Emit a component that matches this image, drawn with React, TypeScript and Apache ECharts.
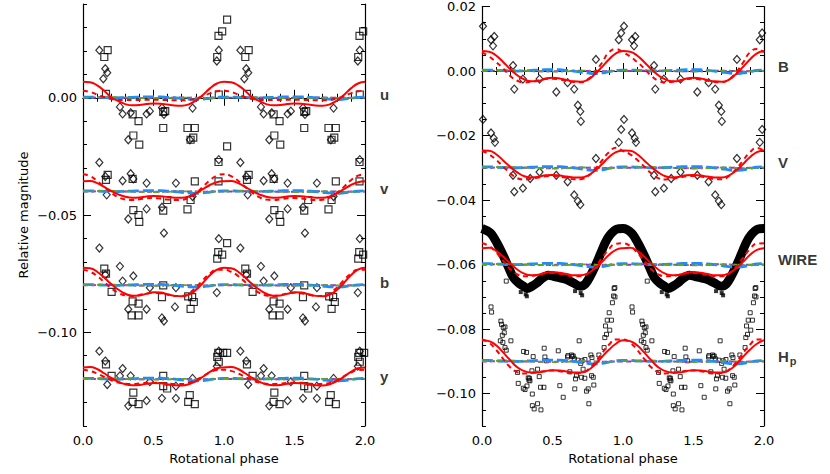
import React, { useEffect, useRef } from "react";
import * as echarts from "echarts";

// ---------- data ----------
const PHASE_GRID = [0, 0.05, 0.1, 0.15, 0.2, 0.25, 0.3, 0.35, 0.4, 0.45, 0.5, 0.55, 0.6, 0.65, 0.7, 0.75, 0.8, 0.85, 0.9, 0.95, 1.0];

// band offsets
const LEFT_BANDS = ["u", "v", "b", "y"];
const LEFT_OFFSETS = [0, -0.04, -0.08, -0.12];
const RIGHT_BANDS = ["B", "V", "WIRE", "Hp"];
const RIGHT_OFFSETS = [0, -0.03, -0.06, -0.09];

// observed points (phase, relative value) — diamonds / squares
const U_DIAMONDS = [[0.116, 0.0203], [0.144, 0.0081], [0.158, 0.0124], [0.172, 0.0107], [0.262, -0.0039], [0.281, -0.0069], [0.321, -0.0179], [0.338, -0.0064], [0.451, -0.0069], [0.474, -0.0057], [0.56, -0.0043], [0.574, -0.0071], [0.758, -0.0179], [0.777, -0.0044], [0.949, 0.0157], [0.963, 0.0203]];
const U_SQUARES = [[0.151, 0.0174], [0.175, 0.0203], [0.163, 0.0017], [0.352, -0.0071], [0.394, -0.0100], [0.357, -0.0161], [0.399, -0.0200], [0.569, -0.0060], [0.583, -0.0057], [0.569, -0.0129], [0.741, -0.0129], [0.793, -0.0129], [0.763, -0.0179], [0.782, -0.0170], [0.961, 0.0264], [0.987, 0.0283], [0.952, 0.0174], [0.963, 0.0014], [1.022, 0.0333], [1.022, -0.0207]];

const V_DIAMONDS = [[0.116, 0.0124], [0.158, 0.0064], [0.168, -0.0014], [0.281, 0.0046], [0.338, 0.0076], [0.357, 0.0054], [0.321, -0.0117], [0.451, 0.0036], [0.451, -0.0074], [0.56, -0.0067], [0.574, -0.0177], [0.659, 0.0036], [0.777, -0.0021], [0.963, 0.0136]];
const V_SQUARES = [[0.175, 0.0071], [0.163, 0.005], [0.352, 0.0054], [0.357, -0.0079], [0.394, -0.0100], [0.399, -0.0129], [0.569, -0.0081], [0.597, -0.0036], [0.741, -0.0076], [0.763, -0.0036], [0.793, 0.0043], [0.961, 0.0126], [0.961, 0.0043]];

const B_DIAMONDS = [[0.116, 0.0159], [0.158, 0.0045], [0.262, 0.0081], [0.281, 0.0018], [0.357, 0.004], [0.321, -0.0102], [0.451, -0.0102], [0.474, -0.001], [0.56, -0.0139], [0.574, -0.0152], [0.652, -0.0092], [0.659, -0.001], [0.949, -0.0031], [0.963, 0.0199]];
const B_SQUARES = [[0.151, 0.0071], [0.163, 0.005], [0.203, -0.0028], [0.352, -0.0068], [0.394, -0.0078], [0.345, -0.0128], [0.394, -0.0128], [0.569, 0.0], [0.56, -0.005], [0.746, -0.0047], [0.774, -0.005], [0.786, -0.0071], [0.763, -0.0100], [0.952, 0.0114], [0.959, 0.0142], [0.987, 0.0131], [1.022, 0.018]];

const Y_DIAMONDS = [[0.116, 0.0119], [0.158, 0.0077], [0.172, -0.0023], [0.262, 0.0014], [0.281, 0.0045], [0.321, -0.0114], [0.338, 0.0014], [0.451, -0.0092], [0.474, -0.0011], [0.56, -0.0082], [0.659, -0.003], [0.659, -0.0082], [0.777, 0.0003], [0.949, 0.0055], [0.963, 0.0119]];
const Y_SQUARES = [[0.163, 0.0063], [0.203, 0.0014], [0.357, -0.0058], [0.352, -0.0097], [0.394, -0.0107], [0.569, 0.0014], [0.569, -0.003], [0.597, -0.004], [0.757, -0.0068], [0.746, -0.0097], [0.793, -0.0107], [0.952, 0.0095], [0.959, 0.0112], [0.963, 0.0074], [0.994, 0.0112], [1.022, 0.0112]];

const BB_DIAMONDS = [[0.007, 0.0139], [0.064, 0.0097], [0.078, 0.0078], [0.087, 0.0107], [0.22, 0.0017], [0.229, -0.0056], [0.29, -0.0025], [0.408, -0.0025], [0.527, -0.0065], [0.607, -0.0036], [0.654, -0.0056], [0.68, -0.0106], [0.697, -0.0125], [0.701, -0.0156], [0.808, 0.0036], [0.97, 0.0097], [0.987, 0.0118]];
const VV_DIAMONDS = [[0.007, 0.015], [0.064, 0.0108], [0.083, 0.0092], [0.092, 0.0079], [0.22, -0.0023], [0.229, -0.0074], [0.29, -0.0063], [0.342, -0.0033], [0.408, -0.0013], [0.527, -0.0023], [0.607, -0.0043], [0.654, -0.0084], [0.68, -0.0103], [0.697, -0.0114], [0.808, 0.0029], [0.97, 0.0079], [0.987, 0.0119]];

const HP_SQUARES = [[0.064, 0.0169], [0.068, 0.0153], [0.13, 0.0064], [0.134, 0.0125], [0.139, 0.0115], [0.144, 0.0081], [0.148, 0.0059], [0.151, 0.0105], [0.158, 0.0089], [0.163, 0.0107], [0.163, 0.0043], [0.172, 0.0035], [0.172, 0.0249], [0.205, 0.0064], [0.252, -0.0034], [0.257, -0.0068], [0.293, -0.0083], [0.295, 0.0031], [0.305, -0.0087], [0.316, 0.0028], [0.319, -0.0076], [0.328, -0.0051], [0.333, -0.0058], [0.336, -0.0052], [0.34, -0.006], [0.354, -0.0029], [0.357, -0.0101], [0.357, -0.0137], [0.363, 0.0015], [0.37, -0.0147], [0.394, -0.0024], [0.394, -0.0131], [0.406, -0.0047], [0.415, -0.008], [0.418, -0.015], [0.439, -0.008], [0.441, 0.0041], [0.446, 0.0014], [0.458, 0.0002], [0.541, 0.0033], [0.552, -0.0075], [0.576, -0.0111], [0.607, 0.0014], [0.61, 0.0018], [0.623, -0.0032], [0.635, 0.002], [0.64, 0.0015], [0.647, 0.0017], [0.655, 0.0008], [0.658, -0.0085], [0.663, -0.0054], [0.67, -0.0044], [0.68, 0.0004], [0.689, 0.0064], [0.7, -0.0006], [0.705, -0.0049], [0.71, 0.0002], [0.717, -0.0024], [0.729, -0.0052], [0.73, 0.0006], [0.741, -0.0092], [0.753, -0.0085], [0.758, -0.0131], [0.772, 0.002], [0.777, -0.0044], [0.78, 0.0012], [0.789, -0.0049], [0.793, -0.0073], [0.829, 0.002], [0.866, 0.0043], [0.871, 0.0074], [0.876, 0.011], [0.883, 0.0084], [0.888, 0.0128], [0.902, 0.0151], [0.906, 0.0097], [0.918, 0.0128], [0.925, 0.0182], [0.933, 0.0203], [0.937, 0.0226], [0.942, 0.0229], [0.943, 0.02]];

// WIRE light curve (dense band), phase & relative value
const WIRE_PH = [0.0, 0.06, 0.106, 0.153, 0.19, 0.224, 0.26, 0.295, 0.32, 0.354, 0.389, 0.425, 0.47, 0.507, 0.554, 0.6, 0.649, 0.696, 0.732, 0.767, 0.802, 0.838, 0.873, 0.908, 0.956, 1.0];
const WIRE_V = [0.0112, 0.0098, 0.0067, 0.0026, -0.001, -0.0041, -0.0057, -0.0067, -0.0074, -0.0067, -0.0057, -0.0043, -0.0033, -0.0036, -0.0041, -0.0046, -0.0057, -0.0067, -0.006, -0.0036, -0.0005, 0.0031, 0.0067, 0.0092, 0.011, 0.0112];
// scattered WIRE points below the band (phase, relative value)
const WIRE_LOW = [[0.31, -0.0092], [0.318, -0.0098], [0.7, -0.0088], [0.71, -0.0095], [0.275, -0.0085], [0.66, -0.0082]];

// model curves on PHASE_GRID (relative values)
const SOLID = {
  u: [0.0068, 0.0066, 0.0053, 0.0030, 0.0002, -0.0014, -0.0027, -0.0032, -0.0031, -0.0027, -0.0024, -0.0025, -0.0029, -0.0033, -0.0034, -0.0028, -0.0012, 0.0012, 0.0040, 0.0061, 0.0068],
  v: [0.0044, 0.0045, 0.0036, 0.0020, 0.0003, -0.0012, -0.0022, -0.0026, -0.0025, -0.0021, -0.0019, -0.0020, -0.0023, -0.0026, -0.0026, -0.0021, -0.0008, 0.0010, 0.0028, 0.0040, 0.0044],
  b: [0.0075, 0.0073, 0.0058, 0.0033, 0.0006, -0.0018, -0.0036, -0.0044, -0.0043, -0.0036, -0.0030, -0.0031, -0.0038, -0.0045, -0.0047, -0.0040, -0.0020, 0.0010, 0.0043, 0.0067, 0.0075],
  y: [0.0050, 0.0052, 0.0043, 0.0025, 0.0005, -0.0011, -0.0022, -0.0026, -0.0025, -0.0020, -0.0017, -0.0018, -0.0022, -0.0026, -0.0027, -0.0022, -0.0009, 0.0010, 0.0031, 0.0046, 0.0050],
  B: [0.0062, 0.0060, 0.0048, 0.0028, 0.0006, -0.0013, -0.0026, -0.0032, -0.0031, -0.0023, -0.0021, -0.0023, -0.0028, -0.0032, -0.0033, -0.0027, -0.0010, 0.0012, 0.0036, 0.0055, 0.0062],
  V: [0.0054, 0.0053, 0.0042, 0.0023, 0.0003, -0.0014, -0.0026, -0.0030, -0.0028, -0.0023, -0.0022, -0.0024, -0.0027, -0.0030, -0.0030, -0.0024, -0.0009, 0.0011, 0.0033, 0.0049, 0.0054],
  WIRE: [0.0051, 0.0052, 0.0043, 0.0025, 0.0004, -0.0015, -0.0028, -0.0033, -0.0031, -0.0025, -0.0023, -0.0025, -0.0029, -0.0033, -0.0033, -0.0027, -0.0012, 0.0008, 0.0030, 0.0046, 0.0051],
  Hp: [0.0066, 0.0063, 0.0050, 0.0028, 0.0004, -0.0018, -0.0030, -0.0034, -0.0034, -0.0030, -0.0027, -0.0028, -0.0031, -0.0034, -0.0034, -0.0028, -0.0010, 0.0014, 0.0036, 0.0055, 0.0066],
};
const DASHED = {
  u: [0.0030, 0.0025, 0.0014, 0.0003, -0.0005, -0.0009, -0.0010, -0.0010, -0.0009, -0.0008, -0.0008, -0.0009, -0.0010, -0.0011, -0.0011, -0.0009, -0.0003, 0.0007, 0.0019, 0.0028, 0.0030],
  v: [0.0074, 0.0066, 0.0046, 0.0020, -0.0005, -0.0024, -0.0034, -0.0036, -0.0033, -0.0029, -0.0028, -0.0030, -0.0034, -0.0036, -0.0035, -0.0026, -0.0007, 0.0020, 0.0048, 0.0068, 0.0074],
  b: [0.0066, 0.0058, 0.0040, 0.0014, -0.0012, -0.0032, -0.0043, -0.0045, -0.0041, -0.0035, -0.0032, -0.0034, -0.0040, -0.0045, -0.0045, -0.0034, -0.0010, 0.0022, 0.0050, 0.0066, 0.0066],
  y: [0.0040, 0.0035, 0.0024, 0.0009, -0.0005, -0.0015, -0.0020, -0.0021, -0.0019, -0.0016, -0.0015, -0.0016, -0.0019, -0.0021, -0.0021, -0.0016, -0.0004, 0.0012, 0.0028, 0.0039, 0.0040],
  B: [0.0058, 0.0045, 0.0028, 0.0008, -0.0015, -0.0030, -0.0035, -0.0033, -0.0029, -0.0025, -0.0024, -0.0026, -0.0030, -0.0034, -0.0035, -0.0026, -0.0005, 0.0025, 0.0058, 0.0068, 0.0058],
  V: [0.0052, 0.0042, 0.0025, 0.0004, -0.0017, -0.0032, -0.0036, -0.0034, -0.0030, -0.0026, -0.0025, -0.0027, -0.0031, -0.0035, -0.0035, -0.0026, -0.0005, 0.0022, 0.0048, 0.0062, 0.0052],
  WIRE: [0.0066, 0.0058, 0.0038, 0.0012, -0.0014, -0.0030, -0.0036, -0.0035, -0.0031, -0.0027, -0.0026, -0.0028, -0.0032, -0.0036, -0.0036, -0.0028, -0.0008, 0.0020, 0.0048, 0.0065, 0.0066],
  Hp: [0.0068, 0.0058, 0.0036, 0.0008, -0.0018, -0.0033, -0.0037, -0.0036, -0.0033, -0.0029, -0.0028, -0.0030, -0.0034, -0.0037, -0.0036, -0.0026, -0.0004, 0.0025, 0.0052, 0.0068, 0.0068],
};
const BLUE_DEV = [0.0003, 0.0003, 0.0002, 0.0001, 0.0000, 0.0000, 0.0001, 0.0002, 0.0003, 0.0004, 0.0004, 0.0004, 0.0002, 0.0000, -0.0003, -0.0006, -0.0008, -0.0006, -0.0002, 0.0002, 0.0003];
const GREEN_DEV = [0.0001, 0.0001, 0.0002, 0.0003, 0.0003, 0.0002, 0.0001, 0.0000, -0.0001, -0.0001, -0.0002, -0.0002, -0.0001, 0.0000, 0.0001, 0.0001, 0.0000, -0.0001, -0.0001, 0.0000, 0.0001];
const PURPLE_DEV = [0.0000, 0.0000, 0.0001, 0.0001, 0.0001, 0.0000, 0.0000, 0.0000, -0.0001, -0.0001, -0.0001, 0.0000, 0.0000, 0.0001, 0.0001, 0.0000, 0.0000, -0.0001, 0.0000, 0.0000, 0.0000];

const LEFT_Y_MAJOR = [-0.10, -0.05, 0.0];
const RIGHT_Y_MAJOR = [-0.10, -0.08, -0.06, -0.04, -0.02, 0.0, 0.02];

// ---------- helpers ----------
type P = number[];
const twoCyclePoints = (pts: P[], off: number) =>
  pts.flatMap(([p, v]) => [[p, v + off], [p + 1, v + off]]);

const twoCycleLine = (ph: number[], vals: number[], off: number) => {
  const out: number[][] = [];
  [0, 1].forEach((c) => {
    ph.forEach((p, i) => {
      if (c === 1 && i === 0) return;
      out.push([p + c, vals[i] + off]);
    });
  });
  return out;
};

const FONT = "DejaVu Sans";

export default function App() {
  const ref = useRef<HTMLDivElement>(null);
  useEffect(() => {
    if (!ref.current) return;
    const chart = echarts.init(ref.current, undefined, { renderer: "svg" });

    const axisLine = { show: true, lineStyle: { color: "#000", width: 1.2 } };
    const xAxes: any[] = [];
    const yAxes: any[] = [];
    [0, 1].forEach((g) => {
      xAxes.push({
        type: "value", gridIndex: g, position: "bottom", min: 0, max: 2, interval: 0.5,
        axisLine, splitLine: { show: false },
        axisTick: { show: true, inside: true, length: 8, lineStyle: { color: "#000" } },
        minorTick: { show: true, splitNumber: 5, length: 4, lineStyle: { color: "#000" } },
        axisLabel: { color: "#000", fontFamily: FONT, fontSize: 13, margin: 8, formatter: (v: number) => v.toFixed(1) },
        name: "Rotational phase", nameLocation: "middle", nameGap: 24,
        nameTextStyle: { color: "#000", fontFamily: FONT, fontSize: 13 },
      });
      xAxes.push({
        type: "value", gridIndex: g, position: "top", min: 0, max: 2, interval: 0.5,
        axisLine, splitLine: { show: false },
        axisTick: { show: true, inside: true, length: 8, lineStyle: { color: "#000" } },
        minorTick: { show: true, splitNumber: 5, length: 4, lineStyle: { color: "#000" } },
        axisLabel: { show: false },
      });
      const min = g === 0 ? -0.14 : -0.11;
      const max = g === 0 ? 0.04 : 0.02;
      const minorInt = g === 0 ? 0.01 : 0.005;
      const major = g === 0 ? LEFT_Y_MAJOR : RIGHT_Y_MAJOR;
      ["left", "right"].forEach((pos) => {
        yAxes.push({
          type: "value", gridIndex: g, position: pos, min, max, interval: minorInt,
          axisLine, splitLine: { show: false },
          axisTick: { show: true, inside: true, length: 4, lineStyle: { color: "#000" } },
          axisLabel: { show: false },
        });
        yAxes.push({
          type: "value", gridIndex: g, position: pos, min, max,
          axisLine: { show: false }, splitLine: { show: false },
          axisTick: { show: true, inside: true, length: 8, customValues: major, lineStyle: { color: "#000" } },
          axisLabel: {
            show: pos === "left", customValues: major, color: "#000", fontFamily: FONT, fontSize: 13, margin: 6,
            formatter: (v: number) => (v < 0 ? "\u2212" : "") + Math.abs(v).toFixed(2),
          },
          name: g === 0 && pos === "left" ? "Relative magnitude" : "",
          nameLocation: "middle", nameGap: 53,
          nameTextStyle: { color: "#000", fontFamily: FONT, fontSize: 13 },
        });
      });
    });

    const series: any[] = [];
    const axesFor = (g: number) => ({ xAxisIndex: g * 2, yAxisIndex: g * 4 + 1 });
    const hollow = { color: "rgba(0,0,0,0)", borderColor: "#000", borderWidth: 1.2 };
    const addPoints = (g: number, pts: P[], off: number, kind: "diamond" | "rect" | "small" | "solid") => {
      series.push({
        type: "scatter", ...axesFor(g), data: twoCyclePoints(pts, off),
        symbol: kind === "diamond" ? "diamond" : "rect",
        symbolSize: kind === "diamond" ? [7, 8] : kind === "rect" ? 7 : 4,
        itemStyle: kind === "small" ? { ...hollow, borderWidth: 1 } : kind === "solid" ? { color: "#000" } : hollow,
        silent: true, z: 2,
      });
    };
    const addModels = (g: number, key: string, off: number) => {
      const base = { type: "line", ...axesFor(g), symbol: "none", smooth: true, silent: true, z: 4 };
      series.push({ ...base, data: twoCycleLine(PHASE_GRID, PURPLE_DEV, off), lineStyle: { color: "#a030c8", width: 2, type: [5, 3] } });
      series.push({ ...base, data: twoCycleLine(PHASE_GRID, BLUE_DEV, off), lineStyle: { color: "#1e8cff", width: 2.8, type: [11, 4] } });
      series.push({ ...base, data: twoCycleLine(PHASE_GRID, GREEN_DEV, off), lineStyle: { color: "#5fa52a", width: 1.8, type: [6, 3, 2, 3] } });
      series.push({ ...base, data: twoCycleLine(PHASE_GRID, (DASHED as any)[key], off), lineStyle: { color: "#ff0000", width: 2, type: [5, 4] } });
      series.push({ ...base, data: twoCycleLine(PHASE_GRID, (SOLID as any)[key], off), lineStyle: { color: "#ff0000", width: 2 } });
    };
    const addLabel = (g: number, text: string, off: number, rich?: boolean) => {
      series.push({
        type: "scatter", ...axesFor(g), data: [[2, off]], symbolSize: 0, clip: false, silent: true, z: 5,
        label: {
          show: true, position: "right", distance: g === 0 ? 15 : 14, offset: [0, g === 0 ? -3 : -5],
          color: "#000", fontFamily: "Liberation Sans", fontWeight: "bold", fontSize: 15,
          formatter: rich ? "{h|H}{p|p}" : text,
          rich: rich ? {
            h: { fontFamily: "Liberation Sans", fontWeight: "bold", fontSize: 15, color: "#000" },
            p: { fontFamily: "Liberation Sans", fontWeight: "bold", fontSize: 11, color: "#000", padding: [9, 0, 0, 1] },
          } : undefined,
        },
      });
    };

    // left panel
    const leftD = [U_DIAMONDS, V_DIAMONDS, B_DIAMONDS, Y_DIAMONDS];
    const leftS = [U_SQUARES, V_SQUARES, B_SQUARES, Y_SQUARES];
    LEFT_BANDS.forEach((k, i) => {
      addPoints(0, leftD[i], LEFT_OFFSETS[i], "diamond");
      addPoints(0, leftS[i], LEFT_OFFSETS[i], "rect");
    });
    LEFT_BANDS.forEach((k, i) => addModels(0, k, LEFT_OFFSETS[i]));
    LEFT_BANDS.forEach((k, i) => addLabel(0, k, LEFT_OFFSETS[i]));

    // right panel
    addPoints(1, BB_DIAMONDS, RIGHT_OFFSETS[0], "diamond");
    addPoints(1, VV_DIAMONDS, RIGHT_OFFSETS[1], "diamond");
    series.push({
      type: "line", ...axesFor(1), data: twoCycleLine(WIRE_PH, WIRE_V, RIGHT_OFFSETS[2]),
      symbol: "none", smooth: 0.3, silent: true, z: 3,
      lineStyle: { color: "#000", width: 9, cap: "butt", join: "round" },
    });
    addPoints(1, WIRE_LOW, RIGHT_OFFSETS[2], "solid");
    addPoints(1, HP_SQUARES, RIGHT_OFFSETS[3], "small");
    RIGHT_BANDS.forEach((k, i) => addModels(1, k, RIGHT_OFFSETS[i]));
    RIGHT_BANDS.forEach((k, i) => addLabel(1, k, RIGHT_OFFSETS[i], k === "Hp"));

    chart.setOption({
      animation: false,
      backgroundColor: "#fff",
      grid: [
        { left: 83, top: 4, width: 282, height: 422 },
        { left: 482, top: 4, width: 282, height: 422 },
      ],
      xAxis: xAxes,
      yAxis: yAxes,
      series,
    });
    return () => chart.dispose();
  }, []);

  return <div ref={ref} style={{ position: "absolute", left: 0, top: 0, width: 830, height: 474, background: "#fff" }} />;
}
